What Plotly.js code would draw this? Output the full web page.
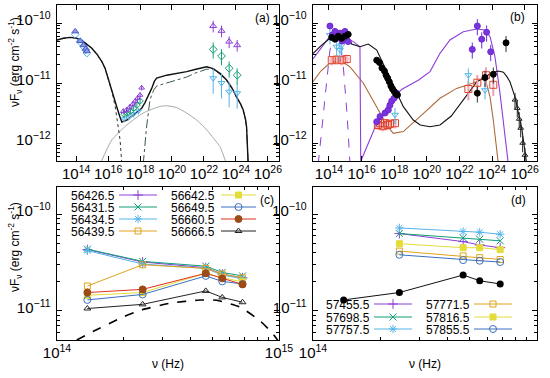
<!DOCTYPE html>
<html><head><meta charset="utf-8">
<script src="https://cdn.plot.ly/plotly-3.0.1.min.js"></script>
<style>html,body{margin:0;padding:0;background:#fff}#chart{width:550px;height:378px}</style>
</head><body><div id="chart"></div>
<script>
// ================= DATA =================
// Panels (a),(b): values are log10(nu/Hz) and log10(nuFnu / erg cm^-2 s^-1)
// (a) model curves
const aTotNu = [12.79,13.2,13.62,14.04,14.46,14.98,15.3,15.61,15.81,16.02,16.25,16.54,16.72,16.86,17.17,17.58,17.9,18.1,18.3,18.5,18.73,18.9,19.04,19.67,20.3,20.92,21.5,22.17,22.58,23.0,23.42,23.75,24.04,24.3,24.46,24.6,24.67,24.72,24.77];
const aTotF  = [-10.285,-10.255,-10.24,-10.255,-10.31,-10.42,-10.52,-10.645,-10.755,-10.95,-11.15,-11.395,-11.55,-11.65,-11.62,-11.53,-11.46,-11.42,-11.33,-11.22,-11.09,-10.97,-10.92,-10.87,-10.84,-10.81,-10.77,-10.73,-10.76,-10.84,-10.95,-11.08,-11.23,-11.35,-11.45,-11.6,-11.73,-12.0,-12.35];
const aSynNu = [12.79,13.2,13.62,14.04,14.46,14.98,15.3,15.61,15.81,16.02,16.25,16.45,16.6,16.75,16.86];
const aSynF  = [-10.285,-10.255,-10.24,-10.255,-10.31,-10.42,-10.52,-10.645,-10.755,-10.95,-11.15,-11.4,-11.65,-11.95,-12.35];
const aEcNu  = [18.2,18.4,18.62,18.85,19.04,19.67,20.3,20.92,21.5,22.17,22.58,23.0,23.42,23.75,24.04,24.3,24.46,24.6,24.67,24.72,24.77];
const aEcF   = [-12.35,-11.75,-11.28,-11.12,-11.05,-11.0,-10.95,-10.9,-10.83,-10.77,-10.77,-10.85,-10.96,-11.09,-11.24,-11.36,-11.46,-11.61,-11.74,-12.0,-12.35];
const aSscNu = [15.5,16.23,17.17,18.2,19.25,19.7,20.3,20.92,21.6,22.17,22.6,23.0,23.42];
const aSscF  = [-12.35,-11.95,-11.7,-11.5,-11.39,-11.38,-11.41,-11.5,-11.63,-11.78,-11.92,-12.06,-12.35];
// (a) data points
const aOptNu = [13.94,14.25,14.46,14.6,14.67];
const aOptF1 = [-10.14,-10.3,-10.37,-10.43,-10.47];
const aOptF2 = [-10.19,-10.31,-10.39,-10.45,-10.5];
const aX1Nu = [16.95,17.15,17.35,17.55,17.7,17.85,18.0,18.1];
const aX1F  = [-11.47,-11.45,-11.4,-11.35,-11.3,-11.25,-11.2,-11.08];
const aX2Nu = [17.0,17.2,17.4,17.6,17.8,18.0];
const aX2F  = [-11.52,-11.5,-11.47,-11.42,-11.37,-11.3];
const aX3Nu = [17.0,17.3,17.6,17.9];
const aX3F  = [-11.6,-11.57,-11.52,-11.47];
const aGNu  = [22.58,23.1,23.58,24.08];
const aG1F  = [-10.05,-10.13,-10.31,-10.37];
const aG2F  = [-10.44,-10.55,-10.755,-10.87];
const aG3F  = [-10.92,-11.0,-11.145,-11.17];

// (b) model curves
const bBlkNu = [13.02,13.5,14.06,14.6,15.18,15.39,15.9,16.41,16.93,17.54,18.05,18.56,19.17,19.6,20.2,20.81,21.5,22.04,22.45,23.06,23.57,24.0,24.39,24.7,24.9,25.1,25.41,25.61,25.82,25.95,26.13];
const bBlkF  = [-10.51,-10.38,-10.255,-10.23,-10.228,-10.35,-10.395,-10.35,-10.45,-10.8,-11.1,-11.395,-11.617,-11.7,-11.73,-11.7,-11.55,-11.35,-11.2,-10.98,-10.9,-10.83,-10.8,-10.82,-10.89,-10.98,-11.23,-11.5,-11.75,-12.0,-12.35];
const bPurNu = [13.02,13.5,13.96,14.47,15.09,15.49,15.9,15.95,16.0,16.5,16.93,17.5,17.94,18.5,18.97,19.5,20.2,20.81,21.42,22.24,23.06,23.57,23.88,24.18,24.49,24.8,25.0];
const bPurF  = [-10.6,-10.42,-10.255,-10.24,-10.255,-10.31,-10.395,-12.35,-12.27,-11.95,-11.67,-11.42,-11.23,-11.1,-11.03,-10.95,-10.81,-10.505,-10.283,-10.145,-10.1,-10.117,-10.228,-10.56,-11.17,-11.9,-12.35];
const bBrnNu = [13.02,13.5,14.0,14.67,15.29,16.1,16.93,17.54,17.94,18.56,19.58,20.81,21.83,22.85,23.57,23.88,24.08,24.29,24.39];
const bBrnF  = [-10.98,-10.8,-10.68,-10.62,-10.73,-11.0,-11.4,-11.7,-11.84,-11.81,-11.56,-11.255,-11.09,-11.0,-10.92,-11.23,-11.62,-12.12,-12.35];
const bDashNu = [13.34,13.75,14.06,14.27,14.67,14.88,15.12,15.29];
const bDashF  = [-12.35,-11.28,-10.45,-10.255,-10.255,-10.73,-11.56,-12.35];
// (b) data points
const bBlkPtNu = [14.17,14.37,14.57,14.78,14.98,15.18,16.93,17.1,17.25,17.4,17.5,17.6,17.7,17.8,17.9,18.0,18.1,18.2];
const bBlkPtF  = [-10.24,-10.27,-10.22,-10.255,-10.22,-10.19,-10.62,-10.66,-10.75,-10.8,-10.87,-10.92,-10.98,-11.05,-11.1,-11.14,-11.18,-11.2];
const bBlkGNu = [23.1,23.57,24.08,24.86];
const bBlkGF  = [-11.17,-10.91,-10.855,-10.33];
const bPurPtNu = [14.06,14.2,14.37,14.5,14.67,14.8,14.98,15.18,16.93,17.13,17.44,17.64,17.74,17.85,17.99,18.15];
const bPurPtF  = [-10.05,-10.2,-10.14,-10.25,-10.17,-10.3,-10.14,-10.31,-11.645,-11.56,-11.5,-11.45,-11.37,-11.3,-11.255,-11.17];
const bPurGNu = [22.79,23.1,23.37,23.67,23.92];
const bPurGF  = [-10.44,-10.05,-10.27,-10.155,-10.48];
const bOrgNu = [14.17,14.47,14.78,15.09,17.0,17.13,17.3,17.44,17.6,17.74,18.05];
const bOrgF  = [-10.62,-10.61,-10.62,-10.6,-11.7,-11.67,-11.72,-11.67,-11.7,-11.68,-11.67];
const bOrgGNu = [22.55,23.1,23.63,24.08];
const bOrgGF  = [-11.1,-10.995,-10.87,-11.03];
const bUlNu = [14.06,14.47,14.67,14.78,18.05,22.55,23.57];
const bUlF  = [-10.2,-10.395,-10.45,-10.37,-11.53,-10.87,-11.12];
const bVheNu = [25.41,25.55,25.67,25.76,25.88,26.02];
const bVheF  = [-11.28,-11.42,-11.6,-11.75,-12.0,-12.2];

// (c) optical/NIR light curves (linear values)
const cNu = [1.37e14, 2.43e14, 4.68e14, 5.55e14, 6.85e14];
const cF_56426_5 = [4.3e-11, 3.2e-11, 2.8e-11, 2.4e-11, 2.2e-11];
const cF_56431_5 = [4.35e-11, 3.25e-11, 2.9e-11, 2.5e-11, 2.3e-11];
const cF_56434_5 = [4.2e-11, 3.05e-11, 2.75e-11, 2.35e-11, 2.15e-11];
const cF_56439_5 = [1.81e-11, 3.0e-11, 2.75e-11, 2.4e-11, 2.2e-11];
const cF_56642_5 = [1.45e-11, 1.55e-11, 2.45e-11, 2.2e-11, 2.0e-11];
const cF_56649_5 = [1.3e-11, 1.48e-11, 2.3e-11, 2.02e-11, 1.9e-11];
const cF_56660_5 = [1.55e-11, 1.67e-11, 2.45e-11, 2.17e-11, 1.88e-11];
const cF_56666_5 = [1.06e-11, 1.17e-11, 1.61e-11, 1.38e-11, 1.23e-11];
const cModelNu = [14.089,14.164,14.3,14.38,14.51,14.644,14.72,14.824,14.914,14.974,15.0]; // log10
const cModelF  = [-11.3,-11.21,-11.06,-10.99,-10.92,-10.887,-10.89,-10.96,-11.1,-11.24,-11.32]; // log10
// (d)
const dNu  = [1.37e14, 2.43e14, 4.68e14, 5.55e14, 6.85e14];
const dNu4 = [2.43e14, 4.68e14, 5.55e14, 6.85e14];
const dF_black   = [1.30e-11, 1.55e-11, 2.35e-11, 2.05e-11, 1.9e-11];
const dF_57455_5 = [6.3e-11, 5.2e-11, 4.8e-11, 4.5e-11];
const dF_57698_5 = [6.3e-11, 5.7e-11, 5.5e-11, 5.3e-11];
const dF_57757_5 = [7.2e-11, 6.6e-11, 6.5e-11, 6.2e-11];
const dF_57771_5 = [4.15e-11, 3.7e-11, 3.55e-11, 3.4e-11];
const dF_57816_5 = [4.95e-11, 4.5e-11, 4.5e-11, 4.3e-11];
const dF_57855_5 = [3.8e-11, 3.35e-11, 3.3e-11, 3.2e-11];
const cLabels = ['56426.5','56431.5','56434.5','56439.5','56642.5','56649.5','56660.5','56666.5'];
const dLabels = ['57455.5','57698.5','57757.5','57771.5','57816.5','57855.5'];

// ================= STYLE =================
const PURPLE='#8e3fd6', GREEN='#119e76', LBLUE='#56b4e9', ORANGE='#e0a21a', YELLOW='#e4dc3a',
      BLUE='#3a6fc0', RED='#e0301a', BROWNPT='#9c4a16', BRN='#ad6a3c';
const FONT = {family:'Liberation Sans, Arial, sans-serif', size:12, color:'#000'};
const P = a => a.map(v => Math.pow(10, v));
const traces = [];
function line(xs, ys, xa, ya, ln){ traces.push({x:xs, y:ys, xaxis:xa, yaxis:ya, mode:'lines', line:ln, hoverinfo:'skip', showlegend:false}); }
function pts(xs, ys, xa, ya, mk, extra){ traces.push(Object.assign({x:xs, y:ys, xaxis:xa, yaxis:ya, mode:'markers', marker:mk, hoverinfo:'skip', showlegend:false, cliponaxis:true}, extra||{})); }
function mk(sym, col, size, fill){ return {symbol:sym, size:size||6, color: fill||col, line:{color:col, width:1}}; }
function err(col, v, th){ return {error_y:{type:'percent', value:v, color:col, thickness:th||1, width:0}}; }

// ---- panel (a)
line(P(aSscNu), P(aSscF), 'x','y', {color:'#a8a8a8', width:1, shape:'spline', smoothing:0.5});
line(P(aSynNu), P(aSynF), 'x','y', {color:'#333', width:1, dash:'dot'});
line(P(aEcNu), P(aEcF), 'x','y', {color:'#3d5a44', width:1, dash:'dashdot'});
line(P(aTotNu), P(aTotF), 'x','y', {color:'#111', width:1.4});
pts(P(aOptNu), P(aOptF2), 'x','y', mk('diamond-open', LBLUE, 6));
pts(P(aOptNu), P(aOptF1), 'x','y', mk('triangle-up', '#4a5ccc', 6, '#8c9ae6'));
pts(P(aX3Nu), P(aX3F), 'x','y', mk('triangle-down-open', LBLUE, 5), err(LBLUE, 12));
pts(P(aX2Nu), P(aX2F), 'x','y', mk('diamond-open', GREEN, 5), err(GREEN, 10));
pts(P(aX1Nu), P(aX1F), 'x','y', mk('triangle-up-open', PURPLE, 5), err(PURPLE, 10));
pts(P(aGNu), P(aG3F), 'x','y', mk('triangle-down-open', LBLUE, 6), err(LBLUE, 45));
pts(P(aGNu), P(aG2F), 'x','y', mk('diamond-open', GREEN, 6), err(GREEN, 30));
pts(P(aGNu), P(aG1F), 'x','y', mk('triangle-up-open', PURPLE, 6), err(PURPLE, 22));

// ---- panel (b)
line(P(bDashNu), P(bDashF), 'x2','y2', {color:PURPLE, width:1, dash:'dash'});
line(P(bBrnNu), P(bBrnF), 'x2','y2', {color:BRN, width:1.1});
line(P(bPurNu), P(bPurF), 'x2','y2', {color:PURPLE, width:1.1});
line(P(bBlkNu), P(bBlkF), 'x2','y2', {color:'#111', width:1.1});
pts(P(bOrgNu), P(bOrgF), 'x2','y2', mk('square-open', '#e0452a', 7), {error_y:{type:'percent', value:18, color:'#f5b8c6', thickness:3, width:0}, error_x:{type:'percent', value:30, color:'#f5b8c6', thickness:3, width:0}});
pts(P(bOrgGNu), P(bOrgGF), 'x2','y2', mk('square-open', '#e0452a', 7), err('#f0a0b4', 35, 2));
pts(P(bUlNu), P(bUlF), 'x2','y2', mk('triangle-down-open', LBLUE, 6), err(LBLUE, 30));
pts(P(bPurPtNu), P(bPurPtF), 'x2','y2', mk('circle', '#6f2ad6', 6, '#7a34dc'));
pts(P(bPurGNu), P(bPurGF), 'x2','y2', mk('circle', '#6f2ad6', 6, '#7a34dc'), err('#6f2ad6', 30));
pts(P(bBlkPtNu), P(bBlkPtF), 'x2','y2', mk('circle', '#000', 6, '#000'));
pts(P(bBlkGNu), P(bBlkGF), 'x2','y2', mk('circle', '#000', 6, '#000'), err('#333', 30));
pts(P(bVheNu), P(bVheF), 'x2','y2', mk('triangle-up-open', '#222', 5), err('#222', 30));

// ---- panel (c)
line(P(cModelNu), P(cModelF), 'x3','y3', {color:'#000', width:1.6, dash:'dash', shape:'spline', smoothing:0.5});
const cSeries = [cF_56426_5, cF_56431_5, cF_56434_5, cF_56439_5, cF_56642_5, cF_56649_5, cF_56660_5, cF_56666_5];
const cStyle = [
  {c:PURPLE, s:'cross-thin-open', sz:7},
  {c:GREEN, s:'x-thin-open', sz:7},
  {c:LBLUE, s:'asterisk-open', sz:7},
  {c:ORANGE, s:'square-open', sz:6},
  {c:YELLOW, s:'square', sz:6, f:YELLOW},
  {c:BLUE, s:'circle-open', sz:7},
  {c:RED, s:'circle', sz:7, f:BROWNPT, lc:BROWNPT},
  {c:'#222', s:'triangle-up-open', sz:6}];
function styledSeries(xs, ys, st, xa, ya){
  traces.push({x:xs, y:ys, xaxis:xa, yaxis:ya, mode:'lines+markers', hoverinfo:'skip', showlegend:false,
    line:{color:st.c, width:1},
    marker:{symbol:st.s, size:st.sz, color: st.f || st.c, line:{color: st.lc || st.c, width:1}}});
}
cSeries.forEach((ys,i)=>styledSeries(cNu, ys, cStyle[i], 'x3','y3'));

// ---- panel (d)
traces.push({x:dNu, y:dF_black, xaxis:'x4', yaxis:'y4', mode:'lines+markers', hoverinfo:'skip', showlegend:false,
  line:{color:'#111', width:1}, marker:{symbol:'circle', size:7, color:'#000'}});
const dSeries = [dF_57455_5, dF_57698_5, dF_57757_5, dF_57771_5, dF_57816_5, dF_57855_5];
const dStyle = [cStyle[0], cStyle[1], cStyle[2], cStyle[3], cStyle[4], cStyle[5]];
dSeries.forEach((ys,i)=>styledSeries(dNu4, ys, dStyle[i], 'x4','y4'));

// ---- custom legends (gnuplot-like: text then sample), on a pixel overlay axis
const annotations = [];
function legend(labels, styles, textRight, lineSpan, rows){
  labels.forEach((lab,i)=>{
    const col = Math.floor(i/rows.length), row = i % rows.length;
    const py = rows[row];
    annotations.push({xref:'paper', yref:'paper', x:textRight[col]/550, y:1-py/378, xanchor:'right', yanchor:'middle',
      text:lab, showarrow:false, font:FONT, borderpad:0, height:11, valign:'middle'});
    const st = styles[i];
    const x0 = lineSpan[col][0], x1 = lineSpan[col][1];
    traces.push({x:[x0,x1], y:[py,py], xaxis:'x5', yaxis:'y5', mode:'lines', line:{color:st.c, width:1}, hoverinfo:'skip', showlegend:false});
    traces.push({x:[(x0+x1)/2], y:[py], xaxis:'x5', yaxis:'y5', mode:'markers', hoverinfo:'skip', showlegend:false,
      marker:{symbol:st.s, size:st.sz, color: st.f || st.c, line:{color: st.lc || st.c, width:1}}});
  });
}
legend(cLabels, cStyle, [116,216], [[119,157],[221,256]], [195,207,219,231]);
legend(dLabels, dStyle, [371,471], [[374,412],[474,512]], [304,317,329]);

// panel tags and axis titles
const tag = (t,px,py)=>annotations.push({xref:'paper', yref:'paper', x:px/550, y:1-py/378, xanchor:'center', yanchor:'middle', text:t, showarrow:false, font:FONT});
tag('(a)',262,18); tag('(b)',517,17); tag('(c)',267,200); tag('(d)',518,200);
const ytitle = 'νF<sub>ν</sub> (erg cm<sup>-2</sup> s<sup>-1</sup>)';
annotations.push({xref:'paper', yref:'paper', x:15/550, y:1-62/378, xanchor:'center', yanchor:'middle', textangle:-90, text:ytitle, showarrow:false, font:FONT});
annotations.push({xref:'paper', yref:'paper', x:15/550, y:1-247/378, xanchor:'center', yanchor:'middle', textangle:-90, text:ytitle, showarrow:false, font:FONT});
annotations.push({xref:'paper', yref:'paper', x:168/550, y:1-364/378, xanchor:'center', yanchor:'middle', text:'ν (Hz)', showarrow:false, font:FONT});
annotations.push({xref:'paper', yref:'paper', x:425/550, y:1-364/378, xanchor:'center', yanchor:'middle', text:'ν (Hz)', showarrow:false, font:FONT});

// ================= LAYOUT =================
const base = {type:'log', showgrid:false, zeroline:false, showline:true, linecolor:'#000', linewidth:1,
  mirror:'ticks', ticks:'inside', ticklen:5, tickcolor:'#000', tickwidth:1, tickfont:FONT,
  exponentformat:'power', fixedrange:true};
const yMinor = {ticks:'inside', ticklen:3, tickcolor:'#000', dtick:'D1', showgrid:false};
const dx = (lo,hi)=>[lo/550, hi/550], dy = (top,bot)=>[1-bot/378, 1-top/378];
const layout = {
  width:550, height:378, margin:{l:0,r:0,t:0,b:0}, paper_bgcolor:'#fff', plot_bgcolor:'rgba(0,0,0,0)',
  showlegend:false, font:FONT,
  xaxis: Object.assign({}, base, {domain:dx(57,279), range:[12.8,26.7], dtick:2, anchor:'y'}),
  yaxis: Object.assign({}, base, {domain:dy(5,161), range:[-12.3,-9.7], dtick:1, minor:yMinor, anchor:'x', ticklabelstandoff:3, ticklabelshift:-3}),
  xaxis2: Object.assign({}, base, {domain:dx(313,537), range:[13.02,26.76], dtick:2, anchor:'y2'}),
  yaxis2: Object.assign({}, base, {domain:dy(5,161), range:[-12.3,-9.7], dtick:1, minor:yMinor, anchor:'x2', ticklabelstandoff:3, ticklabelshift:-3}),
  xaxis3: Object.assign({}, base, {domain:dx(57,279), range:[13.9999,15.0001], dtick:1, minor:{ticks:'inside', ticklen:3, tickcolor:'#000', dtick:'D1'}, anchor:'y3'}),
  yaxis3: Object.assign({}, base, {domain:dy(187,340), range:[-11.3,-9.72], dtick:1, minor:yMinor, anchor:'x3', ticklabelstandoff:3, ticklabelshift:-3}),
  xaxis4: Object.assign({}, base, {domain:dx(313,537), range:[13.9999,15.0001], dtick:1, minor:{ticks:'inside', ticklen:3, tickcolor:'#000', dtick:'D1'}, anchor:'y4'}),
  yaxis4: Object.assign({}, base, {domain:dy(187,340), range:[-11.3,-9.72], dtick:1, minor:yMinor, anchor:'x4', ticklabelstandoff:3, ticklabelshift:-3}),
  xaxis5: {domain:[0,1], range:[0,550], visible:false, fixedrange:true, anchor:'y5'},
  yaxis5: {domain:[0,1], range:[378,0], visible:false, fixedrange:true, anchor:'x5'},
  annotations: annotations
};
Plotly.newPlot('chart', traces, layout, {staticPlot:true, displayModeBar:false});
</script></body></html>
